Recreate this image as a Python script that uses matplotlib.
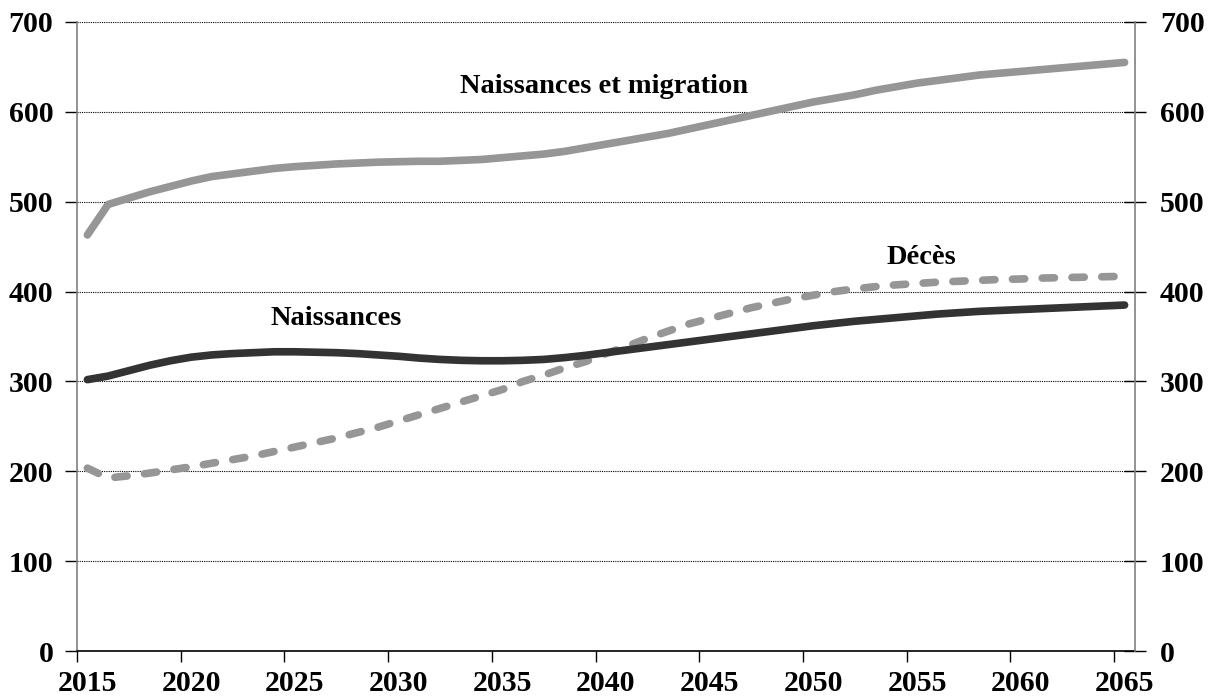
"""Naissances, migration et décès, 2015-2065."""

import numpy as np
import matplotlib
matplotlib.use("Agg")
import matplotlib.pyplot as plt

years = np.arange(2015, 2066)

naissances_migration = [
    463, 497, 504, 511, 517, 523, 528, 531, 534, 537,
    539, 540.5, 542, 543, 544, 544.5, 545, 545, 546, 547,
    549, 551, 553, 556, 560, 564, 568, 572, 576, 581,
    586, 591, 596, 601, 606, 611, 615, 619, 624, 628,
    632, 635, 638, 641, 643, 645, 647, 649, 651, 653,
    655,
]
naissances = [
    302, 306, 312, 318, 323, 327, 329.5, 331, 332, 333,
    333, 332.5, 332, 331, 329.5, 328, 326, 324.5, 323.5, 323,
    323, 323.5, 324.5, 326.5, 329, 332, 335, 338, 341, 344,
    347, 350, 353, 356, 359, 362, 364.5, 367, 369, 371,
    373, 375, 376.5, 378, 379, 380, 381, 382, 383, 384,
    385,
]
deces = [
    203.5, 192.5, 195, 198, 201.5, 205, 209, 213, 217, 222,
    227, 232, 237, 243, 249, 256, 263, 270, 277, 284,
    291, 300, 307, 315, 322, 331, 339, 348, 356, 364,
    370, 376, 382, 387, 392, 396, 400, 403, 405.5, 407.5,
    409, 410.5, 411.5, 412.5, 413.5, 414, 415, 415.5, 416, 416.5,
    417,
]

tick_years = np.arange(2015, 2066, 5)
y_ticks = np.arange(0, 701, 100)

plt.rcParams["font.family"] = ["Liberation Serif", "DejaVu Serif"]
plt.rcParams["font.weight"] = "bold"
plt.rcParams["font.size"] = 20.5

fig = plt.figure(figsize=(12.11, 6.98), dpi=100)
ax = fig.add_axes([0.0636, 0.0673, 0.8736, 0.9012])

# each year sits in the middle of its slot
x = years + 0.5
ax.plot(x, naissances_migration, color="#969696", lw=5.5,
        solid_capstyle="round", zorder=3)
ax.plot(x, naissances, color="#333333", lw=5.5,
        solid_capstyle="round", zorder=4)
ax.plot(x, deces, color="#969696", lw=5.5, dashes=(1.6, 2.3),
        dash_capstyle="round", zorder=3)

ax.set_xlim(2015, 2066)
ax.set_ylim(0, 700)

# dotted horizontal grid
for v in y_ticks[1:]:
    ax.axhline(v, color="black", lw=0.8, ls=(0, (1, 1)), zorder=1)

ax.set_yticks(y_ticks)
ax.tick_params(axis="y", left=True, right=False, direction="out",
               length=9, width=1, color="black", pad=8,
               labelsize=21.5)

# same scale repeated on the right
ax2 = ax.twinx()
ax2.set_ylim(0, 700)
ax2.set_yticks(y_ticks)
ax2.tick_params(axis="y", direction="inout", length=16, width=1,
                color="black", pad=10, labelsize=21.5)
for s in ["top", "left", "bottom"]:
    ax2.spines[s].set_visible(False)
ax2.spines["right"].set_color("#808080")
ax2.spines["right"].set_linewidth(1.2)

# ticks at slot edges, labels at slot centres
ax.set_xticks(tick_years)
ax.set_xticklabels([])
ax.set_xticks(tick_years + 0.5, minor=True)
ax.set_xticklabels([str(y) for y in tick_years], minor=True)
ax.tick_params(axis="x", which="major", length=8, width=1,
               color="black", direction="out")
ax.tick_params(axis="x", which="minor", length=0, pad=14,
               labelsize=21.5)

ax.spines["top"].set_visible(False)
ax.spines["right"].set_visible(False)
ax.spines["left"].set_color("#808080")
ax.spines["bottom"].set_color("black")
ax.spines["left"].set_linewidth(1.2)
ax.spines["bottom"].set_linewidth(1.2)

ax.text(2040.4, 621, "Naissances et migration", ha="center",
        va="baseline", fontweight="bold")
ax.text(2027.5, 363, "Naissances", ha="center", va="baseline",
        fontweight="bold")
ax.text(2055.7, 431, "Décès", ha="center", va="baseline",
        fontweight="bold")

fig.savefig("out.png", dpi=100)
